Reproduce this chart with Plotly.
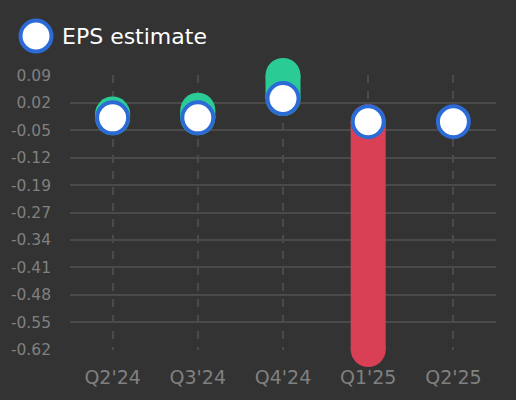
import numpy as np
import plotly.graph_objects as go

quarters = ["Q2'24", "Q3'24", "Q4'24", "Q1'25", "Q2'25"]
eps_estimate = [-0.02, -0.02, 0.03, -0.03, -0.03]
eps_actual = [-0.01, 0.00, 0.09, -0.62, None]
tick_labels = ["-0.62", "-0.55", "-0.48", "-0.41", "-0.34", "-0.27",
               "-0.19", "-0.12", "-0.05", "0.02", "0.09"]

GREEN = "#2bcb96"
RED = "#d94056"
BLUE = "#2c6ad6"
BG = "#333333"
GRID = "#4a4a4a"

fig = go.Figure()

# bars from estimate to actual, with round ends
for q, est, act in zip(quarters, eps_estimate, eps_actual):
    if act is None:
        continue
    col = GREEN if act >= est else RED
    fig.add_trace(go.Scatter(
        x=[q, q], y=[est, act], mode="lines+markers",
        line=dict(color=col, width=35),
        marker=dict(color=col, size=35, line=dict(width=0)),
        cliponaxis=False, showlegend=False, hoverinfo="skip",
    ))

fig.add_trace(go.Scatter(
    x=quarters, y=eps_estimate, mode="markers", name="EPS estimate",
    marker=dict(color="white", size=31, line=dict(color=BLUE, width=4)),
    cliponaxis=False, showlegend=False,
))

# legend drawn by hand so the marker can be full size
fig.add_shape(type="circle", xref="paper", yref="paper",
              xsizemode="pixel", ysizemode="pixel",
              xanchor=-0.0798, yanchor=1.1418,
              x0=-15.5, x1=15.5, y0=-15.5, y1=15.5,
              line=dict(color=BLUE, width=4), fillcolor="white")
fig.add_annotation(text="EPS estimate", xref="paper", yref="paper",
                   x=-0.0235, y=1.1418, xanchor="left", yanchor="middle",
                   showarrow=False, font=dict(size=22, color="white"))

ymin, ymax = -0.62, 0.09
fig.update_layout(
    width=516, height=400,
    margin=dict(l=70, r=20, t=75, b=50),
    paper_bgcolor=BG, plot_bgcolor=BG,
    font=dict(family="DejaVu Sans", color="#808080"),
    showlegend=False,
)
fig.update_xaxes(
    type="category", range=[-0.5, 4.5],
    showgrid=True, gridcolor=GRID, gridwidth=2, griddash="8px,8px",
    zeroline=False, showline=False, ticks="",
    tickfont=dict(size=19, color="#808080"), ticklabelstandoff=14,
)
fig.update_yaxes(
    range=[ymin - 0.001, ymax + 0.001],
    tickvals=np.linspace(ymin, ymax, len(tick_labels)), ticktext=tick_labels,
    showgrid=True, gridcolor=GRID, gridwidth=2,
    zeroline=False, showline=False, ticks="",
    tickfont=dict(size=15.5, color="#808080"), ticklabelstandoff=18,
)

fig.write_html("out.html", config={"displayModeBar": False},
               post_script="document.body.style.margin='0';"
                           "document.body.style.background='#333333';")
